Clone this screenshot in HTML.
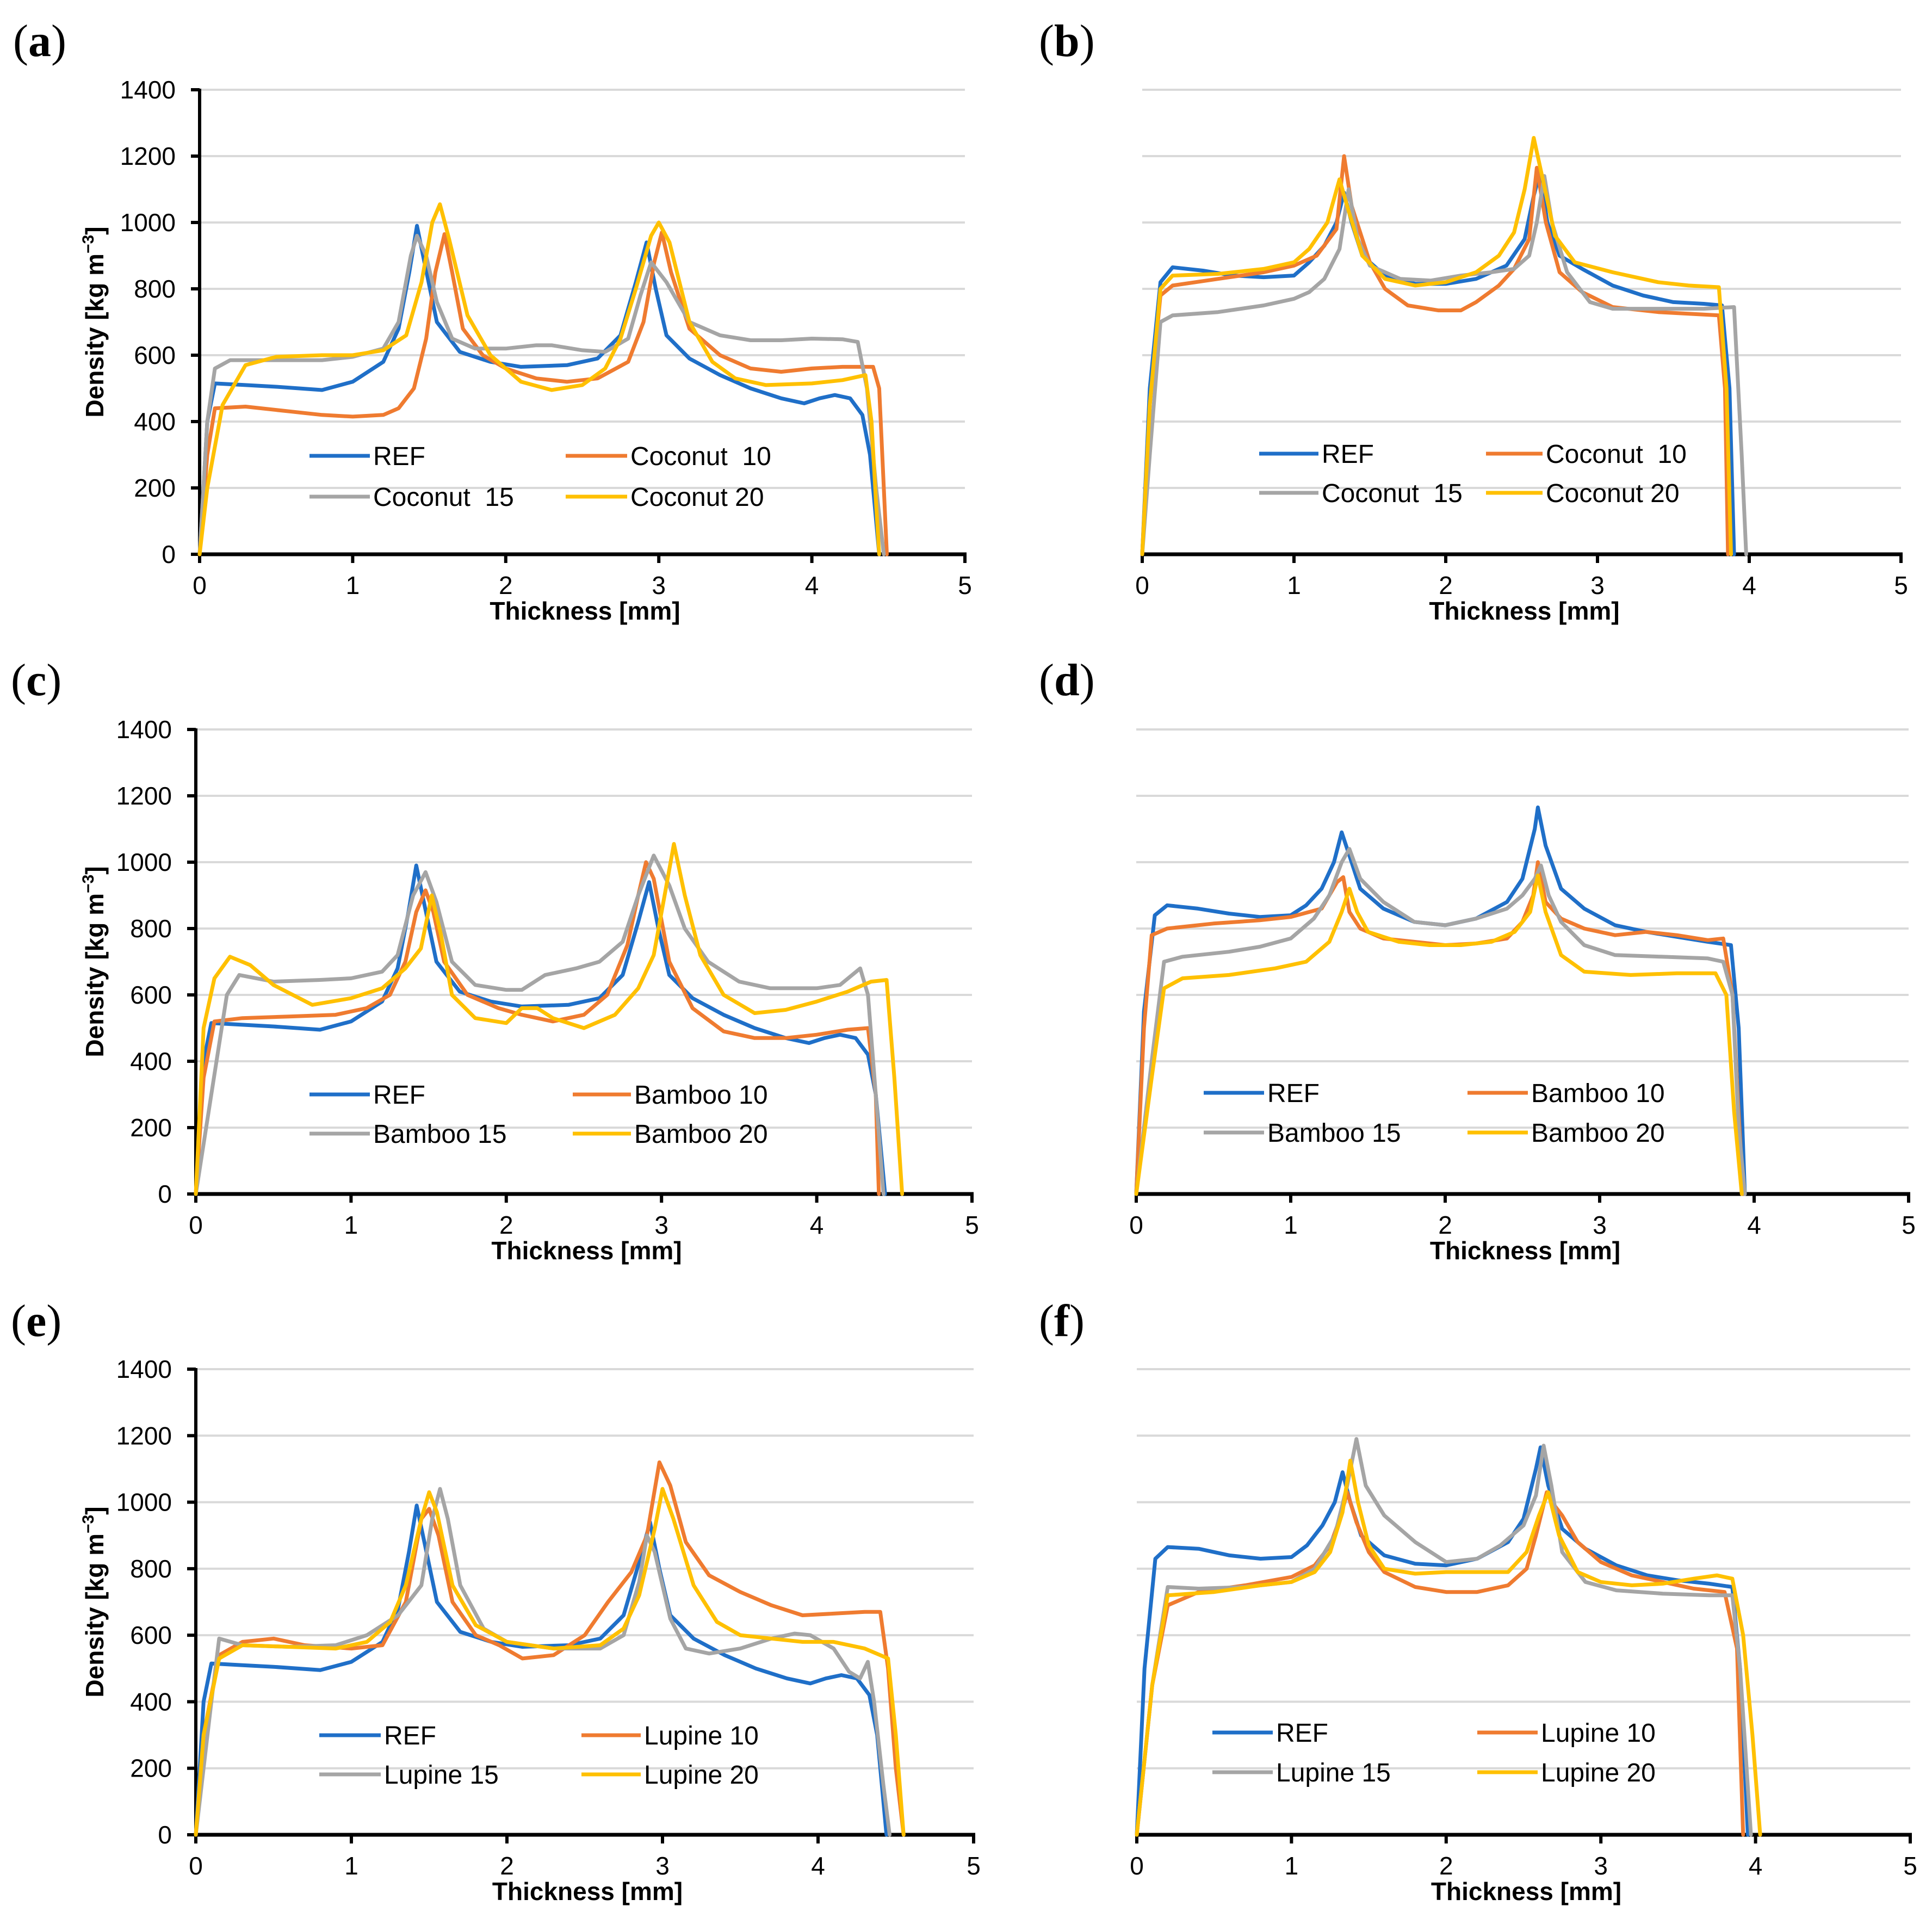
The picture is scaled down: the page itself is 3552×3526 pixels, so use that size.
<!DOCTYPE html>
<html><head><meta charset="utf-8">
<style>
html,body{margin:0;padding:0;background:#fff;}
svg{display:block;}
text{font-family:"Liberation Sans",sans-serif;}
</style></head>
<body>
<svg id="fig" width="3552" height="3526" viewBox="0 0 3552 3526" xmlns="http://www.w3.org/2000/svg"></svg>
<script>
// ---- data (thickness mm, density kg/m3) ----
const yTicks = [0,200,400,600,800,1000,1200,1400];
const xTicks = [0,1,2,3,4,5];
const refA = [[0,0],[0.05,400],[0.1,515],[0.3,510],[0.5,505],[0.8,495],[1.0,520],[1.2,580],[1.3,680],[1.37,850],[1.42,990],[1.46,900],[1.55,700],[1.7,610],[1.9,580],[2.1,565],[2.4,570],[2.6,590],[2.75,660],[2.85,820],[2.92,940],[2.98,800],[3.05,660],[3.2,590],[3.4,540],[3.6,500],[3.8,470],[3.95,455],[4.05,470],[4.15,480],[4.25,470],[4.33,420],[4.38,300],[4.42,100],[4.44,0]];
const coco10 = [[0,0],[0.05,300],[0.1,440],[0.3,445],[0.6,430],[0.8,420],[1.0,415],[1.2,420],[1.3,440],[1.4,500],[1.48,650],[1.54,850],[1.6,965],[1.65,850],[1.72,680],[1.85,600],[2.0,560],[2.2,530],[2.4,520],[2.6,530],[2.8,580],[2.9,700],[2.97,880],[3.02,970],[3.08,850],[3.2,680],[3.4,600],[3.6,560],[3.8,550],[4.0,560],[4.2,565],[4.4,565],[4.44,500],[4.47,200],[4.49,0]];
const coco15 = [[0,0],[0.05,400],[0.1,560],[0.2,585],[0.5,585],[0.8,585],[1.0,595],[1.2,620],[1.3,700],[1.38,900],[1.42,960],[1.48,900],[1.55,760],[1.65,650],[1.8,620],[2.0,620],[2.2,630],[2.3,630],[2.5,615],[2.65,610],[2.8,650],[2.88,780],[2.95,880],[3.05,820],[3.2,700],[3.4,660],[3.6,645],[3.8,645],[4.0,650],[4.2,648],[4.3,640],[4.36,500],[4.42,200],[4.47,0]];
const coco20 = [[0,0],[0.05,200],[0.15,450],[0.3,570],[0.5,595],[0.8,600],[1.0,600],[1.2,615],[1.35,660],[1.45,820],[1.52,1000],[1.57,1055],[1.63,950],[1.75,720],[1.9,600],[2.1,520],[2.3,495],[2.5,510],[2.65,560],[2.75,650],[2.85,800],[2.95,960],[3.0,1000],[3.07,940],[3.2,700],[3.35,580],[3.5,530],[3.7,510],[4.0,515],[4.2,525],[4.35,540],[4.39,400],[4.42,150],[4.44,0]];
const refB = [[0,0],[0.05,500],[0.12,820],[0.2,865],[0.4,855],[0.6,840],[0.8,835],[1.0,840],[1.1,880],[1.2,930],[1.28,1000],[1.33,1090],[1.38,1000],[1.45,900],[1.6,840],[1.8,815],[2.0,815],[2.2,830],[2.4,870],[2.52,950],[2.58,1080],[2.62,1150],[2.67,1000],[2.75,900],[2.9,860],[3.1,810],[3.3,780],[3.5,760],[3.7,755],[3.82,750],[3.87,500],[3.9,0]];
const coco10b = [[0,0],[0.05,450],[0.12,780],[0.2,810],[0.5,830],[0.8,850],[1.0,870],[1.15,900],[1.28,980],[1.33,1200],[1.38,1050],[1.5,880],[1.6,800],[1.75,750],[1.95,735],[2.1,735],[2.2,760],[2.35,810],[2.45,860],[2.55,950],[2.6,1165],[2.66,1000],[2.75,850],[2.9,790],[3.1,745],[3.4,730],[3.6,725],[3.8,720],[3.84,500],[3.86,0]];
const coco15b = [[0,0],[0.05,300],[0.12,700],[0.2,720],[0.5,730],[0.8,750],[1.0,770],[1.1,790],[1.2,830],[1.3,920],[1.36,1100],[1.42,950],[1.5,870],[1.7,830],[1.9,825],[2.1,840],[2.3,850],[2.45,860],[2.55,900],[2.6,1000],[2.65,1140],[2.7,1000],[2.8,850],[2.95,760],[3.1,740],[3.4,740],[3.7,740],[3.9,745],[3.95,300],[3.98,0]];
const coco20b = [[0,0],[0.05,450],[0.12,800],[0.2,840],[0.5,845],[0.8,860],[1.0,880],[1.1,920],[1.22,1000],[1.3,1130],[1.35,1050],[1.45,900],[1.6,830],[1.8,810],[2.0,820],[2.2,850],[2.35,900],[2.45,970],[2.52,1100],[2.58,1255],[2.63,1150],[2.72,960],[2.85,880],[3.1,850],[3.4,820],[3.6,810],[3.8,805],[3.85,500],[3.88,0]];
const bam10 = [[0,0],[0.05,350],[0.12,520],[0.3,530],[0.6,535],[0.9,540],[1.1,560],[1.25,600],[1.35,700],[1.42,850],[1.48,915],[1.53,850],[1.6,700],[1.75,600],[1.95,560],[2.1,540],[2.3,520],[2.5,540],[2.65,600],[2.78,750],[2.85,900],[2.9,1000],[2.95,950],[3.05,700],[3.2,560],[3.4,490],[3.6,470],[3.8,470],[4.0,480],[4.2,495],[4.33,500],[4.38,300],[4.4,0]];
const bam15 = [[0,0],[0.1,300],[0.2,600],[0.28,660],[0.5,640],[0.8,645],[1.0,650],[1.2,670],[1.3,720],[1.4,900],[1.48,970],[1.55,880],[1.65,700],[1.8,630],[2.0,615],[2.1,615],[2.25,660],[2.45,680],[2.6,700],[2.75,760],[2.85,900],[2.95,1020],[3.05,930],[3.15,800],[3.3,700],[3.5,640],[3.7,620],[4.0,620],[4.15,630],[4.28,680],[4.33,600],[4.38,300],[4.43,0]];
const bam20 = [[0,0],[0.05,500],[0.12,650],[0.22,715],[0.35,690],[0.5,630],[0.75,570],[1.0,590],[1.2,620],[1.35,680],[1.45,740],[1.52,900],[1.58,780],[1.65,600],[1.8,530],[2.0,515],[2.1,560],[2.2,560],[2.3,530],[2.5,500],[2.7,540],[2.85,620],[2.95,720],[3.02,900],[3.08,1055],[3.15,900],[3.25,720],[3.4,600],[3.6,545],[3.8,555],[4.0,580],[4.2,610],[4.35,640],[4.45,645],[4.5,350],[4.55,0]];
const refD = [[0,0],[0.05,550],[0.12,840],[0.2,870],[0.4,860],[0.6,845],[0.8,835],[1.0,840],[1.1,870],[1.2,920],[1.28,1000],[1.33,1090],[1.38,1020],[1.45,920],[1.6,860],[1.8,820],[2.0,810],[2.2,830],[2.4,880],[2.5,950],[2.58,1100],[2.6,1165],[2.65,1050],[2.75,920],[2.9,860],[3.1,810],[3.3,790],[3.5,775],[3.7,760],[3.85,750],[3.9,500],[3.94,0]];
const bam10d = [[0,0],[0.05,500],[0.1,780],[0.2,800],[0.5,815],[0.8,825],[1.0,835],[1.2,860],[1.3,940],[1.34,955],[1.38,850],[1.45,800],[1.6,770],[1.8,760],[2.0,750],[2.2,755],[2.4,770],[2.5,820],[2.57,900],[2.6,1000],[2.65,880],[2.75,830],[2.9,800],[3.1,780],[3.3,790],[3.5,780],[3.7,765],[3.8,770],[3.86,600],[3.9,240],[3.93,0]];
const bam15d = [[0,0],[0.1,400],[0.18,700],[0.3,715],[0.6,730],[0.8,745],[1.0,770],[1.15,830],[1.25,900],[1.33,1000],[1.38,1040],[1.45,950],[1.6,880],[1.8,820],[2.0,810],[2.2,830],[2.4,860],[2.5,900],[2.58,950],[2.62,990],[2.67,900],[2.75,820],[2.9,750],[3.1,720],[3.4,715],[3.7,710],[3.8,700],[3.86,600],[3.9,200],[3.94,0]];
const bam20d = [[0,0],[0.1,350],[0.18,620],[0.3,650],[0.6,660],[0.9,680],[1.1,700],[1.25,760],[1.33,850],[1.38,920],[1.43,850],[1.5,790],[1.7,760],[1.9,750],[2.1,750],[2.3,760],[2.45,790],[2.55,850],[2.6,960],[2.65,850],[2.75,720],[2.9,670],[3.2,660],[3.5,665],[3.75,665],[3.82,600],[3.87,250],[3.92,0]];
const lup10 = [[0,0],[0.05,300],[0.15,540],[0.3,580],[0.5,590],[0.7,570],[1.0,560],[1.2,570],[1.35,700],[1.45,950],[1.5,980],[1.56,900],[1.65,700],[1.8,600],[1.95,570],[2.1,530],[2.3,540],[2.5,600],[2.65,700],[2.8,790],[2.9,900],[2.98,1120],[3.05,1050],[3.15,880],[3.3,780],[3.5,730],[3.7,690],[3.9,660],[4.1,665],[4.3,670],[4.4,670],[4.45,500],[4.5,200],[4.55,0]];
const lup15 = [[0,0],[0.1,400],[0.15,590],[0.3,570],[0.6,565],[0.9,570],[1.1,600],[1.3,660],[1.45,750],[1.52,950],[1.57,1040],[1.62,950],[1.7,750],[1.85,620],[2.0,580],[2.3,560],[2.6,560],[2.75,600],[2.85,760],[2.9,900],[2.95,850],[3.05,650],[3.15,560],[3.3,545],[3.5,560],[3.7,590],[3.85,605],[3.95,600],[4.1,560],[4.2,490],[4.27,470],[4.32,520],[4.36,400],[4.42,150],[4.46,0]];
const lup20 = [[0,0],[0.05,300],[0.15,530],[0.3,570],[0.6,565],[0.9,560],[1.1,580],[1.25,640],[1.35,750],[1.45,950],[1.5,1030],[1.55,970],[1.65,750],[1.8,630],[2.0,580],[2.3,560],[2.6,570],[2.75,620],[2.85,720],[2.95,920],[3.0,1040],[3.07,950],[3.2,750],[3.35,640],[3.5,600],[3.7,590],[3.9,580],[4.1,580],[4.3,560],[4.45,530],[4.5,300],[4.55,0]];
const refF = [[0,0],[0.05,500],[0.12,830],[0.2,865],[0.4,860],[0.6,840],[0.8,830],[1.0,835],[1.1,870],[1.2,930],[1.28,1000],[1.33,1090],[1.38,1000],[1.45,900],[1.6,840],[1.8,815],[2.0,810],[2.2,830],[2.4,880],[2.5,950],[2.58,1100],[2.61,1165],[2.66,1050],[2.75,920],[2.9,860],[3.1,810],[3.3,780],[3.5,765],[3.7,755],[3.85,745],[3.9,500],[3.95,0]];
const lup10f = [[0,0],[0.1,450],[0.2,690],[0.4,730],[0.7,750],[1.0,775],[1.15,810],[1.25,870],[1.32,960],[1.36,1030],[1.42,940],[1.5,850],[1.6,790],[1.8,745],[2.0,730],[2.2,730],[2.4,750],[2.52,800],[2.58,900],[2.65,1030],[2.7,990],[2.75,960],[2.85,880],[3.0,820],[3.2,780],[3.4,760],[3.6,740],[3.8,730],[3.88,560],[3.92,0]];
const lup15f = [[0,0],[0.1,450],[0.2,745],[0.4,740],[0.7,745],[1.0,760],[1.15,800],[1.28,900],[1.36,1050],[1.42,1190],[1.48,1050],[1.6,960],[1.8,880],[2.0,820],[2.2,830],[2.35,870],[2.5,930],[2.58,1020],[2.63,1170],[2.68,1050],[2.75,850],[2.9,760],[3.1,735],[3.4,725],[3.7,720],[3.85,720],[3.9,500],[3.97,0]];
const lup20f = [[0,0],[0.1,450],[0.2,720],[0.5,730],[0.8,750],[1.0,760],[1.15,790],[1.25,850],[1.33,970],[1.38,1125],[1.43,1000],[1.5,870],[1.6,800],[1.8,785],[2.0,790],[2.2,790],[2.4,790],[2.52,850],[2.6,960],[2.66,1030],[2.73,900],[2.85,790],[3.0,760],[3.2,750],[3.4,755],[3.6,770],[3.75,780],[3.85,770],[3.92,600],[3.98,300],[4.03,0]];
const seriesNames = {a:["REF","Coconut  10","Coconut  15","Coconut 20"],b:["REF","Coconut  10","Coconut  15","Coconut 20"],c:["REF","Bamboo 10","Bamboo 15","Bamboo 20"],d:["REF","Bamboo 10","Bamboo 15","Bamboo 20"],e:["REF","Lupine 10","Lupine 15","Lupine 20"],f:["REF","Lupine 10","Lupine 15","Lupine 20"]};
const seriesData = {a:[refA,coco10,coco15,coco20],b:[refB,coco10b,coco15b,coco20b],c:[refA,bam10,bam15,bam20],d:[refD,bam10d,bam15d,bam20d],e:[refA,lup10,lup15,lup20],f:[refF,lup10f,lup15f,lup20f]};

// ---- layout ----
const colors = ["#1f6fc8","#ef7b30","#a5a5a5","#ffc000"];
const panels = [
 {id:"a",x0:367,x5:1774,y0:1019,yT:165,axis:true,lx:24,ly:103,leg:[569,680,1040,1153,838,913]},
 {id:"b",x0:2100,x5:3495,y0:1019,yT:165,axis:false,lx:1910,ly:103,leg:[2315,2424,2732,2836,834,906]},
 {id:"c",x0:360,x5:1787,y0:2195,yT:1341,axis:true,lx:20,ly:1278,leg:[569,680,1053,1160,2012,2084]},
 {id:"d",x0:2089,x5:3509,y0:2195,yT:1341,axis:false,lx:1910,ly:1278,leg:[2213,2324,2698,2809,2009,2082]},
 {id:"e",x0:360,x5:1790,y0:3373,yT:2517,axis:true,lx:20,ly:2456,leg:[587,700,1069,1178,3190,3262]},
 {id:"f",x0:2090,x5:3512,y0:3373,yT:2517,axis:false,lx:1910,ly:2456,leg:[2229,2340,2716,2827,3185,3258]}
];
const NS="http://www.w3.org/2000/svg";
const svg=document.getElementById('fig');
function mk(tag,attrs,parent){const e=document.createElementNS(NS,tag);for(const k in attrs)e.setAttribute(k,attrs[k]);(parent||svg).appendChild(e);return e;}

panels.forEach(p=>{
  const g=mk('g',{});
  
  
  const sx=v=>p.x0+(p.x5-p.x0)*v/5;
  const sy=v=>p.y0-(p.y0-p.yT)*v/1400;
  const pl=mk('text',{x:p.lx,y:p.ly,'font-size':84,style:'font-family:"Liberation Serif",serif'},g);
  
  
  pl.innerHTML='(<tspan font-weight="bold">'+p.id+'</tspan>)';
  yTicks.forEach(t=>{ if(t===0)return;
    const l=mk('line',{x1:p.x0,x2:p.x5,y1:sy(t),y2:sy(t),stroke:'#d9d9d9','stroke-width':4},g);
    
    
  });
  if(p.axis){
    const ya=mk('line',{x1:p.x0,x2:p.x0,y1:p.yT-2,y2:p.y0,stroke:'#000','stroke-width':6},g);
    
    
    yTicks.forEach(t=>{
      mk('line',{x1:p.x0-16,x2:p.x0,y1:sy(t),y2:sy(t),stroke:'#000','stroke-width':6},g);
      const tl=mk('text',{x:p.x0-44,y:sy(t)+16,'font-size':46,'text-anchor':'end'},g);
      
      
      tl.textContent=t;
    });
    const yt=mk('text',{x:0,y:0,'font-size':46,'font-weight':'bold','text-anchor':'middle',transform:'translate(190,'+((p.y0+p.yT)/2)+') rotate(-90)'},g);
    
    
    yt.innerHTML='Density [kg m<tspan dy="-18" font-size="30">−3</tspan><tspan dy="18">]</tspan>';
  }
  const xa=mk('line',{x1:p.x0-3,x2:p.x5+3,y1:p.y0,y2:p.y0,stroke:'#000','stroke-width':7},g);
  
  
  xTicks.forEach(t=>{
    mk('line',{x1:sx(t),x2:sx(t),y1:p.y0,y2:p.y0+16,stroke:'#000','stroke-width':6},g);
    const tl=mk('text',{x:sx(t),y:p.y0+73,'font-size':46,'text-anchor':'middle'},g);
    
    
    tl.textContent=t;
  });
  const xt=mk('text',{x:(p.x0+p.x5)/2+5,y:p.y0+120,'font-size':46,'font-weight':'bold','text-anchor':'middle'},g);
  
  
  xt.textContent='Thickness [mm]';
  seriesData[p.id].forEach((pts,i)=>{
    const d=pts.map((q,j)=>(j?'L':'M')+sx(q[0]).toFixed(1)+' '+sy(q[1]).toFixed(1)).join(' ');
    const path=mk('path',{d:d,fill:'none',stroke:colors[i],'stroke-width':7,'stroke-linejoin':'round','stroke-linecap':'round'},g);
    
    
  });
  const L=p.leg;
  const pos=[[L[0],L[1],L[4]],[L[2],L[3],L[4]],[L[0],L[1],L[5]],[L[2],L[3],L[5]]];
  seriesNames[p.id].forEach((n,i)=>{
    const [a,b,y]=pos[i];
    const lg=mk('g',{},g);
    
    
    mk('line',{x1:a,x2:b,y1:y,y2:y,stroke:colors[i],'stroke-width':7},lg);
    const t=mk('text',{x:b+6,y:y+17,'font-size':48,style:'white-space:pre'},lg);
    t.textContent=n;
  });
});
</script>
</body></html>
